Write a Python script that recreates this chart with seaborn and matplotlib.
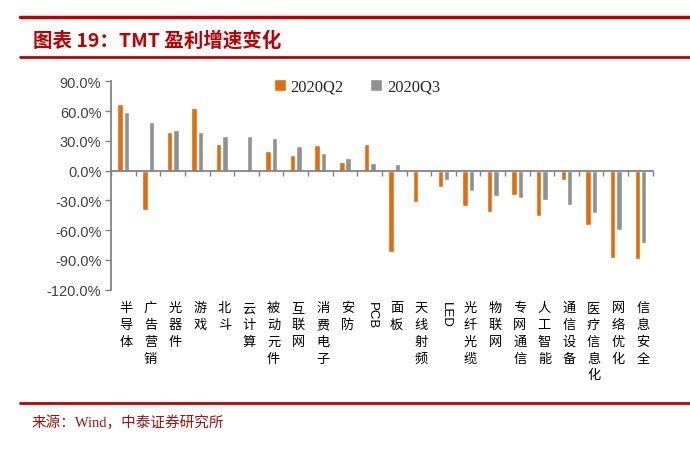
import matplotlib
matplotlib.use("Agg")
import matplotlib.pyplot as plt
from matplotlib.lines import Line2D
from matplotlib.ticker import FixedLocator, FuncFormatter
import numpy as np
import pandas as pd
import seaborn as sns

# data (%)
sectors = ["半导体", "广告营销", "光器件", "游戏", "北斗", "云计算", "被动元件", "互联网",
           "消费电子", "安防", "PCB", "面板", "天线射频", "LED", "光纤光缆", "物联网",
           "专网通信", "人工智能", "通信设备", "医疗信息化", "网络优化", "信息安全"]
q2 = [67.2, -39.3, 39.3, 63.1, 26.9, 0.6, 19.8, 15.8, 25.9, 9.1, 27.2,
      -81.6, -31.8, -16.7, -35.9, -41.3, -24.5, -45.3, -9.7, -54.7, -87.9, -88.6]
q3 = [58.8, 49.3, 41.0, 39.3, 34.6, 34.6, 32.9, 25.2, 18.1, 12.8, 7.8,
      6.6, -1.0, -9.1, -20.1, -25.2, -27.5, -29.5, -34.8, -42.9, -59.4, -72.5]
periods = ["2020Q2", "2020Q3"]
y_ticks = [-120, -90, -60, -30, 0, 30, 60, 90]

colors = {"2020Q2": "#E46C0A", "2020Q3": "#919191"}
red = "#C00000"

sns.set_theme(style="white")
plt.rcParams["font.family"] = ["Liberation Sans", "Noto Sans CJK SC", "DejaVu Sans"]

df = pd.DataFrame({
    "sector": sectors * 2,
    "period": [periods[0]] * len(sectors) + [periods[1]] * len(sectors),
    "value": q2 + q3,
})

fig = plt.figure(figsize=(6.9, 4.56), dpi=100)
ax = fig.add_axes([0.161, 0.3625, 0.785, 0.457])

sns.barplot(data=df, x="sector", y="value", hue="period", order=sectors,
            hue_order=periods, palette=colors, width=0.52, gap=0.15,
            saturation=1, errorbar=None, ax=ax)

# axes styling
ax.set_xlim(-0.5, len(sectors) - 0.5)
ax.set_ylim(min(y_ticks), max(y_ticks))
ax.yaxis.set_major_locator(FixedLocator(y_ticks))
ax.yaxis.set_major_formatter(FuncFormatter(lambda v, _: f"{v:.1f}%"))
ax.tick_params(axis="y", which="major", length=4, width=1, color="#808080",
               labelsize=10.5, labelcolor="#404040", pad=3, left=True)
for s in ["top", "right"]:
    ax.spines[s].set_visible(False)
ax.spines["left"].set_color("#808080")
ax.spines["bottom"].set_color("#808080")
ax.spines["bottom"].set_position(("data", 0))
ax.set_xticks(np.arange(-0.5, len(sectors), 1.0))
ax.set_xticklabels([])
ax.tick_params(axis="x", length=3.5, width=1, color="#808080", bottom=True)
ax.set_xlabel("")
ax.set_ylabel("")
ax.grid(False)

# vertical category labels under the plot
for i, name in enumerate(sectors):
    if name.isascii():
        ax.text(i + 0.1, -0.055, name, transform=ax.get_xaxis_transform(),
                rotation=270, ha="center", va="top", fontsize=9.5,
                color="#000000")
    else:
        ax.text(i + 0.1, -0.055, "\n".join(name), transform=ax.get_xaxis_transform(),
                ha="center", va="top", fontsize=9.5, linespacing=1.38,
                family=["Noto Sans CJK SC", "DejaVu Sans"], color="#000000")

leg = ax.legend(loc="center", bbox_to_anchor=(0.454, 0.973), ncol=2, frameon=False,
                handlelength=0.7, handleheight=0.7, handletextpad=0.3,
                columnspacing=1.6, prop={"family": "Liberation Serif", "size": 12})

# header and footer
fig.add_artist(Line2D([0.029, 1.0], [0.9605, 0.9605], color=red, lw=2.5,
                      transform=fig.transFigure))
fig.add_artist(Line2D([0.029, 1.0], [0.873, 0.873], color=red, lw=2,
                      transform=fig.transFigure))
fig.add_artist(Line2D([0.029, 1.0], [0.114, 0.114], color=red, lw=2,
                      transform=fig.transFigure))
fig.text(0.048, 1 - 41 / 456, "图表 19：TMT 盈利增速变化", fontsize=14,
         fontweight="bold", color=red, va="center",
         family=["Noto Sans CJK SC", "DejaVu Sans"])
fig.text(0.046, 1 - 423 / 456, "来源：Wind，中泰证券研究所", fontsize=10.5,
         color="#A01010", va="center",
         family=["Liberation Serif", "Noto Sans CJK SC", "DejaVu Sans"])

fig.savefig("out.png", dpi=100)
